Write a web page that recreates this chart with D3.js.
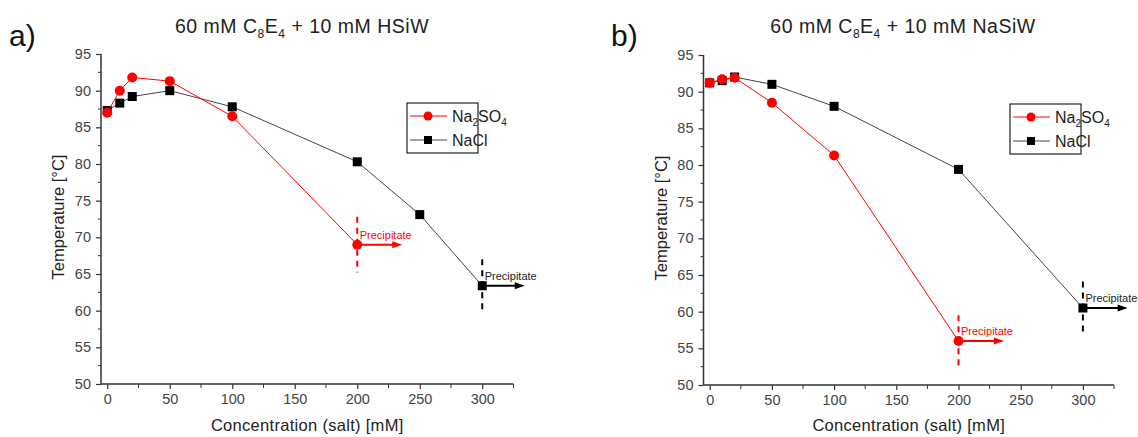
<!DOCTYPE html>
<html>
<head>
<meta charset="utf-8">
<script src="https://cdn.jsdelivr.net/npm/d3@7"></script>
<style>
  html, body { margin: 0; padding: 0; background: #fff; }
  svg { display: block; font-family: "Liberation Sans", Arial, sans-serif; }
</style>
</head>
<body>
<svg id="chart" width="1138" height="437"></svg>
<script>
// Cloud point temperatures of 60 mM C8E4 with 10 mM polyoxometalate vs. added salt
const xTicks = [0, 50, 100, 150, 200, 250, 300];
const yTicks = [50, 55, 60, 65, 70, 75, 80, 85, 90, 95];

// a) HSiW
const hsiwSulfateConc = [0, 10, 20, 50, 100, 200];
const hsiwSulfateTemp = [87.0, 90.0, 91.8, 91.3, 86.5, 69.0];
const hsiwChlorideConc = [0, 10, 20, 50, 100, 200, 250, 300];
const hsiwChlorideTemp = [87.3, 88.3, 89.2, 90.0, 87.8, 80.3, 73.1, 63.4];

// b) NaSiW
const nasiwSulfateConc = [0, 10, 20, 50, 100, 200];
const nasiwSulfateTemp = [91.2, 91.7, 91.9, 88.5, 81.3, 56.0];
const nasiwChlorideConc = [0, 10, 20, 50, 100, 200, 300];
const nasiwChlorideTemp = [91.2, 91.5, 92.0, 91.0, 88.0, 79.4, 60.5];

const svg = d3.select("#chart");
const RED = "#ff0000";
const BLACK = "#000000";
const AXIS = "#333333";

function drawPanel(p) {
  const g = svg.append("g");
  const x = d3.scaleLinear().domain([-5, 325]).range([p.left, p.right]);
  const y = d3.scaleLinear().domain([50, 95]).range([p.bottom, p.top]);

  // panel letter
  g.append("text").attr("x", p.letterX).attr("y", 46)
    .attr("font-size", 30).attr("fill", "#111").text(p.letter);

  // title with subscripts
  const t = g.append("text").attr("x", p.titleX).attr("y", 33)
    .attr("text-anchor", "middle").attr("font-size", 19.5).attr("letter-spacing", 0.5)
    .attr("fill", "#222");
  t.append("tspan").text("60 mM C");
  t.append("tspan").attr("font-size", 12).attr("dy", 5).text("8");
  t.append("tspan").attr("dy", -5).text("E");
  t.append("tspan").attr("font-size", 12).attr("dy", 5).text("4");
  t.append("tspan").attr("dy", -5).text(" + 10 mM " + p.salt);

  // axes: major ticks labelled, minor ticks halfway
  const xMinor = d3.range(25, 330, 50);
  const yMinor = d3.range(52.5, 95, 5);

  const xAxis = g.append("g").attr("transform", `translate(0,${p.bottom})`)
    .call(d3.axisBottom(x).tickValues(xTicks).tickSize(5).tickPadding(5).tickFormat(d3.format("d")));
  xAxis.append("g").selectAll("line").data(xMinor).join("line")
    .attr("x1", d => x(d)).attr("x2", d => x(d)).attr("y1", 0).attr("y2", 4)
    .attr("stroke", AXIS);

  const yAxis = g.append("g").attr("transform", `translate(${p.left},0)`)
    .call(d3.axisLeft(y).tickValues(yTicks).tickSize(5).tickPadding(5).tickFormat(d3.format("d")));
  yAxis.append("g").selectAll("line").data(yMinor).join("line")
    .attr("x1", 0).attr("x2", -3).attr("y1", d => y(d)).attr("y2", d => y(d))
    .attr("stroke", AXIS);

  [xAxis, yAxis].forEach(a => {
    a.select(".domain").attr("stroke", AXIS).attr("stroke-width", 1.5)
      .attr("d", a === xAxis ? `M${p.left},0H${p.right}` : `M0,${p.bottom}V${p.top}`);
    a.selectAll(".tick line").attr("stroke", AXIS).attr("stroke-width", 1.2);
    a.selectAll(".tick text").attr("fill", "#444").attr("font-size", 14.5)
      .attr("font-family", "Liberation Sans, Arial, sans-serif");
  });

  // axis titles
  g.append("text").attr("x", (p.left + p.right) / 2).attr("y", 431)
    .attr("text-anchor", "middle").attr("font-size", 16.5).attr("letter-spacing", 0.3)
    .attr("fill", "#222")
    .text("Concentration (salt) [mM]");
  g.append("text").attr("transform", `translate(${p.left - 37},${(p.top + p.bottom) / 2 - 2}) rotate(-90)`)
    .attr("text-anchor", "middle").attr("font-size", 16.5).attr("fill", "#222")
    .text("Temperature [°C]");

  const line = d3.line().x(d => x(d[0])).y(d => y(d[1]));

  // precipitation markers (dashed boundary + arrow) at last measured point
  function precipitate(conc, temp, color, span, arrowTo, labelDy) {
    const px = x(conc), py = y(temp);
    g.append("line").attr("x1", px).attr("x2", px)
      .attr("y1", y(temp + span[0])).attr("y2", y(temp - span[1]))
      .attr("stroke", color).attr("stroke-width", 2).attr("stroke-dasharray", "6,5");
    const ax = x(arrowTo);
    g.append("line").attr("x1", px).attr("x2", ax - 8).attr("y1", py).attr("y2", py)
      .attr("stroke", color).attr("stroke-width", 2);
    g.append("path").attr("d", `M${ax},${py}L${ax - 10},${py - 3.5}L${ax - 10},${py + 3.5}Z`)
      .attr("fill", color);
    g.append("text").attr("x", px + 2.5).attr("y", py + labelDy)
      .attr("font-size", 11).attr("fill", color === RED ? RED : "#222")
      .text("Precipitate");
  }

  // NaCl series
  const cl = p.clConc.map((c, i) => [c, p.clTemp[i]]);
  g.append("path").datum(cl).attr("d", line).attr("fill", "none")
    .attr("stroke", "#444").attr("stroke-width", 1);
  precipitate(p.clConc[p.clConc.length - 1], p.clTemp[p.clTemp.length - 1], BLACK, p.clSpan, p.clArrow, -6);
  g.selectAll(null).data(cl).join("rect")
    .attr("x", d => x(d[0]) - 4.5).attr("y", d => y(d[1]) - 4.5)
    .attr("width", 9).attr("height", 9).attr("fill", BLACK);

  // Na2SO4 series
  const so = p.soConc.map((c, i) => [c, p.soTemp[i]]);
  g.append("path").datum(so).attr("d", line).attr("fill", "none")
    .attr("stroke", RED).attr("stroke-width", 1);
  precipitate(p.soConc[p.soConc.length - 1], p.soTemp[p.soTemp.length - 1], RED, p.soSpan, p.soArrow, -6);
  g.selectAll(null).data(so).join("circle")
    .attr("cx", d => x(d[0])).attr("cy", d => y(d[1])).attr("r", 5).attr("fill", RED);

  // legend
  const lg = g.append("g").attr("transform", `translate(${p.legendX},${p.legendY})`);
  lg.append("rect").attr("x", 0).attr("y", 0).attr("width", 71).attr("height", 50)
    .attr("fill", "#fff").attr("stroke", "#222").attr("stroke-width", 1.2);
  lg.append("line").attr("x1", 3).attr("x2", 40).attr("y1", 13).attr("y2", 13)
    .attr("stroke", RED).attr("stroke-width", 1);
  lg.append("circle").attr("cx", 21).attr("cy", 13).attr("r", 4.5).attr("fill", RED);
  lg.append("line").attr("x1", 3).attr("x2", 40).attr("y1", 37).attr("y2", 37)
    .attr("stroke", "#444").attr("stroke-width", 1);
  lg.append("rect").attr("x", 17).attr("y", 33).attr("width", 8).attr("height", 8).attr("fill", BLACK);
  const l1 = lg.append("text").attr("x", 45).attr("y", 19).attr("font-size", 16).attr("fill", "#222");
  l1.append("tspan").text("Na");
  l1.append("tspan").attr("font-size", 10).attr("dy", 4).text("2");
  l1.append("tspan").attr("dy", -4).text("SO");
  l1.append("tspan").attr("font-size", 10).attr("dy", 4).text("4");
  lg.append("text").attr("x", 45).attr("y", 43).attr("font-size", 16).attr("fill", "#222").text("NaCl");
}

drawPanel({
  letter: "a)", letterX: 9, titleX: 302, salt: "HSiW",
  left: 101, right: 513.5, top: 54, bottom: 384,
  soConc: hsiwSulfateConc, soTemp: hsiwSulfateTemp, soSpan: [3.8, 3.8], soArrow: 236,
  clConc: hsiwChlorideConc, clTemp: hsiwChlorideTemp, clSpan: [3.6, 3.7], clArrow: 334,
  legendX: 407, legendY: 103
});

drawPanel({
  letter: "b)", letterX: 611, titleX: 903, salt: "NaSiW",
  left: 703.5, right: 1114, top: 55, bottom: 385,
  soConc: nasiwSulfateConc, soTemp: nasiwSulfateTemp, soSpan: [3.5, 4.0], soArrow: 236.5,
  clConc: nasiwChlorideConc, clTemp: nasiwChlorideTemp, clSpan: [3.6, 3.9], clArrow: 336,
  legendX: 1010, legendY: 104
});
</script>
</body>
</html>
